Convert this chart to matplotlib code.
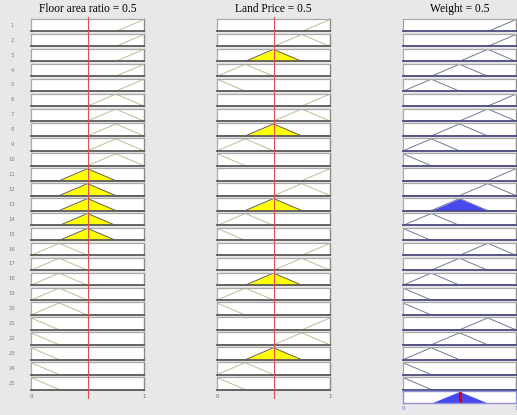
import numpy as np
import matplotlib
matplotlib.use("Agg")
import matplotlib.pyplot as plt

# fuzzy rule viewer: 25 rules, 2 inputs, 1 output
titles = ["Floor area ratio = 0.5", "Land Price = 0.5", "Weight = 0.5"]
inputs = [0.5, 0.5]
mf_centers = [0.0, 0.25, 0.5, 0.75, 1.0]   # triangular MFs, half width 0.25
mf_halfwidth = 0.25
floor_mf  = [5, 5, 5, 5, 5, 4, 4, 4, 4, 4, 3, 3, 3, 3, 3, 2, 2, 2, 2, 2, 1, 1, 1, 1, 1]
price_mf  = [5, 4, 3, 2, 1, 5, 4, 3, 2, 1, 5, 4, 3, 2, 1, 5, 4, 3, 2, 1, 5, 4, 3, 2, 1]
weight_mf = [5, 5, 4, 3, 2, 5, 4, 3, 2, 1, 5, 4, 3, 2, 1, 4, 3, 2, 1, 1, 4, 3, 2, 1, 1]
weight_out = 0.5

W, H = 517, 415
bg = "#e8e8e8"
in_line = "#bdbd95"
out_line = "#75759a"

x = np.linspace(0, 1, 201)

def trimf(v, k):
    c = mf_centers[k - 1]
    return np.clip(1 - np.abs(np.asarray(v, float) - c) / mf_halfwidth, 0, 1)

fig = plt.figure(figsize=(W / 100, H / 100), dpi=100)
fig.patch.set_facecolor(bg)

col_x = [31, 217, 403]
col_w = 113
row_top0 = 19
row_pitch = 14.92
row_h = 12.5

def pix_axes(x0, top, w, h):
    return fig.add_axes([x0 / W, 1 - (top + h) / H, w / W, h / H])

def style_box(ax, bottom="#5a5a5a"):
    ax.set_xlim(0, 1)
    ax.set_ylim(0, 1.04)
    ax.set_xticks([])
    ax.set_yticks([])
    ax.set_facecolor("white")
    for s in ["top", "left"]:
        ax.spines[s].set_color("#a8a8a8")
        ax.spines[s].set_linewidth(0.9)
    ax.spines["right"].set_color("#8a8a8a")
    ax.spines["right"].set_linewidth(1.0)
    ax.spines["bottom"].set_color(bottom)
    ax.spines["bottom"].set_linewidth(1.3)

rule_mfs = [floor_mf, price_mf]
firing = []
for r in range(25):
    firing.append(min(float(trimf(inputs[0], floor_mf[r])), float(trimf(inputs[1], price_mf[r]))))

agg = np.zeros_like(x)
for r in range(25):
    top = row_top0 + r * row_pitch
    fig.text(12 / W, 1 - (top + row_h / 2) / H, str(r + 1), fontsize=3.8,
             color="#808080", ha="center", va="center")
    # inputs
    for c in range(2):
        ax = pix_axes(col_x[c], top, col_w, row_h)
        style_box(ax)
        k = rule_mfs[c][r]
        y = trimf(x, k)
        mu = float(trimf(inputs[c], k))
        if mu > 0:
            ax.fill_between(x, 0, np.minimum(y, mu), color="#ffff00", lw=0)
            ax.plot(x, y, color="#606045", lw=0.7)
        else:
            ax.plot(x, y, color=in_line, lw=0.7)
        if r == 24:
            ax.set_xticks([0, 1])
            ax.set_xticklabels(["0", "1"])
            ax.tick_params(length=0, labelsize=4, labelcolor="#666666", pad=3)
    # output
    ax = pix_axes(col_x[2], top, col_w, row_h)
    style_box(ax, bottom="#4a4a80")
    y = trimf(x, weight_mf[r])
    clipped = np.minimum(y, firing[r])
    agg = np.maximum(agg, clipped)
    if firing[r] > 0:
        ax.fill_between(x, 0, clipped, color="#4848f0", lw=0)
    ax.plot(x, y, color=out_line, lw=0.7)

# aggregated output
ax = pix_axes(col_x[2], 391, col_w, 12)
ax.set_xlim(0, 1)
ax.set_ylim(0, 1.04)
ax.set_yticks([])
ax.set_facecolor("white")
for s in ax.spines.values():
    s.set_color("#9090dc")
    s.set_linewidth(1.0)
ax.fill_between(x, 0, agg, color="#4848f0", lw=0)
ax.plot([weight_out, weight_out], [0, 1], color="#e00000", lw=2.2)
ax.set_xticks([0, 1])
ax.set_xticklabels(["0", "1"])
ax.tick_params(length=0, labelsize=4, labelcolor="#6a6acc", pad=2)

# red input lines over the input columns
for c in range(2):
    ov = fig.add_axes([col_x[c] / W, 1 - 399 / H, col_w / W, (399 - 17) / H])
    ov.set_xlim(0, 1)
    ov.set_ylim(0, 1)
    ov.axis("off")
    ov.patch.set_alpha(0)
    ov.axvline(inputs[c], color="#d85050", lw=0.8)

# titles
for c in range(3):
    fig.text((col_x[c] + col_w / 2) / W, 1 - 9 / H, titles[c], fontsize=8.3,
             family="Liberation Serif", ha="center", va="center", color="black")

fig.savefig("out.png", dpi=100, facecolor=fig.get_facecolor())
